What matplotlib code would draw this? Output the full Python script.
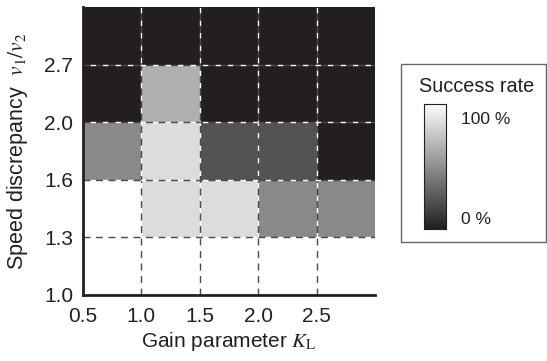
import numpy as np
import matplotlib
matplotlib.use("Agg")
import matplotlib.pyplot as plt
from matplotlib.colors import LinearSegmentedColormap
from matplotlib.patches import Rectangle

plt.rcParams['font.family'] = ['Liberation Sans', 'DejaVu Sans']
plt.rcParams['mathtext.fontset'] = 'stix'

# Data
x_ticklabels = ["0.5", "1.0", "1.5", "2.0", "2.5"]
y_ticklabels = ["1.0", "1.3", "1.6", "2.0", "2.7"]
# success rate in percent, rows from bottom (v1/v2 = 1.0-1.3) to top
success = np.array([
    [100, 100, 100, 100, 100],
    [100, 84, 84, 47, 47],
    [47, 84, 23, 23, 0],
    [0, 64, 0, 0, 0],
    [0, 0, 0, 0, 0],
])

W, H = 547, 361
fig = plt.figure(figsize=(W / 100, H / 100), dpi=100)

def fx(px):
    return px / W

def fy(py):
    return 1 - py / H

cmap = LinearSegmentedColormap.from_list("sr", ["#231f20", "#ffffff"])

ax = fig.add_axes([fx(83), fy(295), fx(375) - fx(83), fy(7) - fy(295)])
ncol = success.shape[1]
nrow = success.shape[0]
ax.pcolormesh(np.arange(ncol + 1), np.arange(nrow + 1), success, cmap=cmap,
              vmin=0, vmax=100, shading='flat')
ax.set_xlim(0, ncol)
ax.set_ylim(0, nrow)

for i in range(1, ncol):
    ax.axvline(i, color='#4a4a4a', lw=1.0, linestyle=(0, (5, 4)), gapcolor='white', zorder=3)
for j in range(1, nrow):
    ax.axhline(j, color='#4a4a4a', lw=1.0, linestyle=(0, (5, 4)), gapcolor='white', zorder=3)

ax.set_xticks(np.arange(len(x_ticklabels)))
ax.set_xticklabels(x_ticklabels)
ax.set_yticks(np.arange(len(y_ticklabels)))
ax.set_yticklabels(y_ticklabels)
ax.tick_params(length=0, labelsize=15, colors='#231f20')
ax.tick_params(axis='x', pad=8.5)
ax.tick_params(axis='y', pad=7)
for s in ['top', 'right']:
    ax.spines[s].set_visible(False)
for s in ['left', 'bottom']:
    ax.spines[s].set_linewidth(2)
    ax.spines[s].set_color('#231f20')
    ax.spines[s].set_zorder(4)

ax.set_xlabel(r"Gain parameter $K_\mathrm{L}$", fontsize=15, color='#231f20', labelpad=3)
ax.set_ylabel(r"Speed discrepancy  $v_1/v_2$", fontsize=15.5, color='#231f20', labelpad=10)

# Legend box
fig.patches.append(Rectangle((fx(401), fy(242)), fx(546) - fx(401), fy(64) - fy(242),
                             transform=fig.transFigure, fill=False, edgecolor='#666666', lw=1.0))
fig.text(fx(477), fy(86), "Success rate", ha='center', va='center', fontsize=14.3, color='#231f20')

cax = fig.add_axes([fx(424), fy(229), fx(446) - fx(424), fy(104) - fy(229)])
grad = np.linspace(0, 100, 256).reshape(-1, 1)
cax.imshow(grad, cmap=cmap, aspect='auto', origin='lower', extent=[0, 1, 0, 100], vmin=0, vmax=100)
cax.set_xticks([])
cax.set_yticks([])
for s in cax.spines.values():
    s.set_linewidth(0.8)
    s.set_color('#231f20')

fig.text(fx(461), fy(119), "100 %", ha='left', va='center', fontsize=12.5, color='#231f20')
fig.text(fx(461), fy(219), "0 %", ha='left', va='center', fontsize=12.5, color='#231f20')

fig.savefig("out.png", dpi=100)
